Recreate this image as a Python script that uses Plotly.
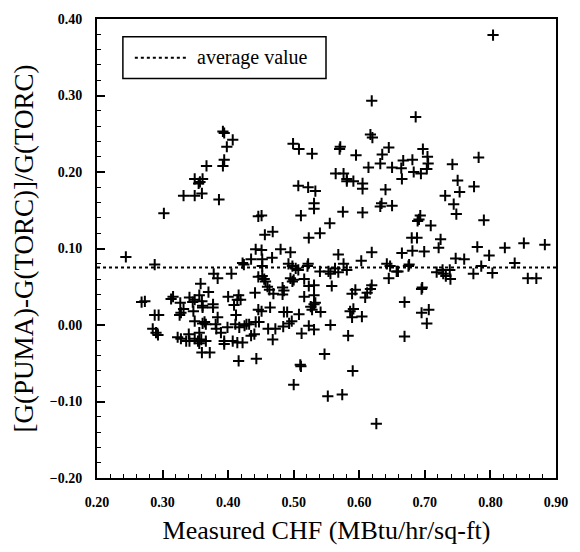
import plotly.graph_objects as go

# Measured CHF (MBtu/hr/sq-ft)
chf = [
    0.392, 0.394, 0.407, 0.398, 0.394, 0.392, 0.367, 0.349, 0.361,
    0.619, 0.617, 0.620, 0.499, 0.508, 0.528, 0.570, 0.571, 0.595, 0.645, 0.635, 0.614, 0.632, 0.650, 0.564, 0.576, 0.581,
    0.804, 0.686, 0.697, 0.704, 0.705, 0.667, 0.681, 0.664, 0.683, 0.694, 0.703, 0.742, 0.782, 0.665, 0.750,
    0.357, 0.355, 0.332, 0.349, 0.360, 0.386, 0.302, 0.446, 0.244, 0.288, 0.442, 0.435, 0.422, 0.424, 0.378, 0.384,
    0.405, 0.446, 0.358, 0.370, 0.356, 0.313, 0.316, 0.341, 0.349, 0.346, 0.268, 0.273, 0.327, 0.332, 0.360, 0.361,
    0.361, 0.377, 0.377, 0.400, 0.416, 0.419, 0.414, 0.441, 0.409, 0.288, 0.294, 0.326, 0.328, 0.347, 0.384, 0.412, 0.446,
    0.581, 0.591, 0.605, 0.605, 0.507, 0.522, 0.533, 0.640, 0.531, 0.531, 0.634, 0.632, 0.650, 0.575, 0.605, 0.451,
    0.511, 0.555, 0.540, 0.523, 0.456, 0.468, 0.451, 0.480, 0.495, 0.568, 0.619, 0.452, 0.467, 0.492, 0.503, 0.507,
    0.498, 0.522, 0.521, 0.452, 0.540, 0.553, 0.556, 0.568, 0.576, 0.581, 0.563, 0.603, 0.642, 0.657, 0.645, 0.452,
    0.457, 0.455, 0.495, 0.498, 0.500, 0.516, 0.523, 0.531, 0.558, 0.619, 0.617, 0.612, 0.594, 0.589, 0.609, 0.460,
    0.463, 0.483, 0.485, 0.483, 0.469, 0.516, 0.531, 0.531, 0.526, 0.533, 0.528, 0.591, 0.586, 0.541, 0.451, 0.464,
    0.485, 0.490, 0.508, 0.604, 0.589,
    0.753, 0.775, 0.731, 0.744, 0.748, 0.693, 0.689, 0.691, 0.709, 0.790, 0.680, 0.688, 0.724, 0.721, 0.665, 0.681,
    0.699, 0.780, 0.822, 0.851, 0.883, 0.798, 0.747, 0.760, 0.837, 0.647, 0.675, 0.676, 0.786, 0.659, 0.718, 0.727,
    0.728, 0.732, 0.738, 0.739, 0.774, 0.803, 0.857, 0.870, 0.696, 0.695, 0.669, 0.695, 0.706,
    0.349, 0.364, 0.366, 0.361, 0.381, 0.382, 0.389, 0.399, 0.411, 0.417, 0.425, 0.428, 0.442, 0.285, 0.290, 0.293,
    0.323, 0.328, 0.336, 0.341, 0.340, 0.349, 0.354, 0.356, 0.359, 0.366, 0.356, 0.360, 0.372, 0.394, 0.394, 0.407,
    0.414, 0.422, 0.435, 0.440, 0.416, 0.443,
    0.447, 0.432, 0.461, 0.472, 0.484, 0.493, 0.497, 0.468, 0.512, 0.523, 0.531, 0.556, 0.583, 0.547, 0.511, 0.510,
    0.590, 0.500, 0.552, 0.574, 0.626,
    0.703, 0.669,
]

# [G(PUMA)-G(TORC)]/G(TORC)
rel_diff = [
    0.253, 0.251, 0.242, 0.233, 0.216, 0.208, 0.208, 0.191, 0.191,
    0.293, 0.249, 0.245, 0.237, 0.230, 0.224, 0.230, 0.233, 0.222, 0.232, 0.223, 0.206, 0.211, 0.206, 0.198, 0.198, 0.191,
    0.379, 0.272, 0.230, 0.220, 0.211, 0.215, 0.216, 0.205, 0.200, 0.198, 0.204, 0.210, 0.219, 0.191, 0.189,
    0.187, 0.185, 0.169, 0.169, 0.172, 0.164, 0.146, 0.142, 0.089, 0.079, 0.099, 0.086, 0.081, 0.079, 0.067, 0.061,
    0.067, 0.063, 0.054, 0.043, 0.039, 0.034, 0.037, 0.036, 0.033, 0.030, 0.030, 0.031, 0.029, 0.021, 0.031, 0.025,
    0.023, 0.027, 0.023, 0.037, 0.039, 0.033, 0.033, 0.042, 0.026, 0.013, 0.013, 0.013, 0.016, 0.018, 0.010, 0.013, 0.020,
    0.188, 0.188, 0.185, 0.178, 0.182, 0.180, 0.175, 0.177, 0.159, 0.152, 0.159, 0.155, 0.156, 0.148, 0.147, 0.143,
    0.143, 0.133, 0.120, 0.114, 0.118, 0.122, 0.098, 0.099, 0.095, 0.092, 0.095, 0.086, 0.088, 0.080, 0.074, 0.072,
    0.077, 0.080, 0.077, 0.077, 0.070, 0.070, 0.067, 0.069, 0.080, 0.072, 0.074, 0.084, 0.080, 0.070, 0.061, 0.064,
    0.057, 0.060, 0.061, 0.057, 0.059, 0.060, 0.051, 0.052, 0.051, 0.052, 0.047, 0.042, 0.046, 0.041, 0.036, 0.050,
    0.046, 0.049, 0.045, 0.040, 0.041, 0.037, 0.039, 0.027, 0.024, 0.029, 0.020, 0.021, 0.018, 0.017, 0.018, 0.023,
    0.017, 0.017, 0.014, 0.011, 0.010,
    0.174, 0.181, 0.169, 0.158, 0.145, 0.143, 0.136, 0.138, 0.130, 0.137, 0.114, 0.114, 0.112, 0.101, 0.094, 0.097,
    0.096, 0.102, 0.101, 0.107, 0.105, 0.091, 0.087, 0.086, 0.081, 0.077, 0.077, 0.079, 0.077, 0.070, 0.069, 0.072,
    0.067, 0.064, 0.072, 0.060, 0.067, 0.068, 0.061, 0.061, 0.049, 0.047, 0.030, 0.016, 0.020,
    0.005, 0.004, 0.001, 0.002, 0.001, -0.005, -0.010, -0.003, 0.001, -0.003, -0.001, 0.001, 0.004, -0.005, -0.010, -0.013,
    -0.016, -0.018, -0.021, -0.021, -0.012, -0.018, -0.021, -0.024, -0.019, -0.021, -0.010, -0.036, -0.036, -0.021, -0.025, -0.021,
    -0.023, -0.023, -0.014, -0.012, -0.047, -0.044,
    0.004, 0.001, -0.005, -0.005, -0.002, 0.002, 0.005, -0.019, -0.011, -0.001, -0.006, 0.000, -0.014, -0.038, -0.054, -0.052,
    -0.060, -0.078, -0.093, -0.091, -0.129,
    0.002, -0.015,
]

average_value = 0.075
avg_x = [0.20, 0.90]
avg_y = [average_value, average_value]

x_ticks = [0.20, 0.30, 0.40, 0.50, 0.60, 0.70, 0.80, 0.90]
y_ticks = [-0.20, -0.10, 0.00, 0.10, 0.20, 0.30, 0.40]

SERIF = "Liberation Serif, Times New Roman, serif"

fig = go.Figure()
fig.add_trace(go.Scatter(
    x=avg_x, y=avg_y, mode="lines",
    line=dict(color="black", width=2, dash="3px,3px"),
    showlegend=False, hoverinfo="skip",
))
fig.add_trace(go.Scatter(
    x=chf, y=rel_diff, mode="markers",
    marker=dict(symbol="cross-thin", size=8, color="black",
                line=dict(color="black", width=2)),
    showlegend=False,
))

# hand-drawn legend box like the original
L, R, T, B = 97, 22, 17, 72
W, H = 580, 552
pw, ph = W - L - R, H - T - B
def px(xp):
    return (xp - L) / pw
def py(yp):
    return 1 - (yp - T) / ph

fig.add_shape(type="rect", xref="paper", yref="paper",
              x0=px(123), x1=px(327), y0=py(77), y1=py(35),
              line=dict(color="black", width=1.5), fillcolor="white", layer="above")
fig.add_shape(type="line", xref="paper", yref="paper",
              x0=px(135), x1=px(187), y0=py(56), y1=py(56),
              line=dict(color="black", width=2, dash="3px,3px"), layer="above")
fig.add_annotation(xref="paper", yref="paper", x=px(195), y=py(56),
                   text="average value", showarrow=False,
                   xanchor="left", yanchor="middle",
                   font=dict(family=SERIF, size=20, color="black"))

axis_common = dict(
    showgrid=False, zeroline=False, showline=True, linecolor="black", linewidth=2,
    mirror=True, ticks="inside", ticklen=8, tickwidth=1.5, tickcolor="black",
    tickformat=".2f", ticklabelstandoff=10,
    tickfont=dict(family=SERIF, size=14, color="black", weight="bold"),
    minor=dict(ticks="inside", ticklen=4, tickwidth=1.2, tickcolor="black", dtick=0.02),
)

fig.update_layout(
    width=W, height=H,
    margin=dict(l=L, r=R, t=T, b=B),
    paper_bgcolor="white", plot_bgcolor="white",
    xaxis=dict(range=[0.20, 0.90], tickvals=x_ticks,
               title=dict(text="Measured CHF (MBtu/hr/sq-ft)",
                          font=dict(family=SERIF, size=26, color="black"), standoff=12),
               **axis_common),
    yaxis=dict(range=[-0.20, 0.40], tickvals=y_ticks,
               title=dict(text="[G(PUMA)-G(TORC)]/G(TORC)",
                          font=dict(family=SERIF, size=27, color="black"), standoff=8),
               **axis_common),
)

fig.write_html("out.html")
